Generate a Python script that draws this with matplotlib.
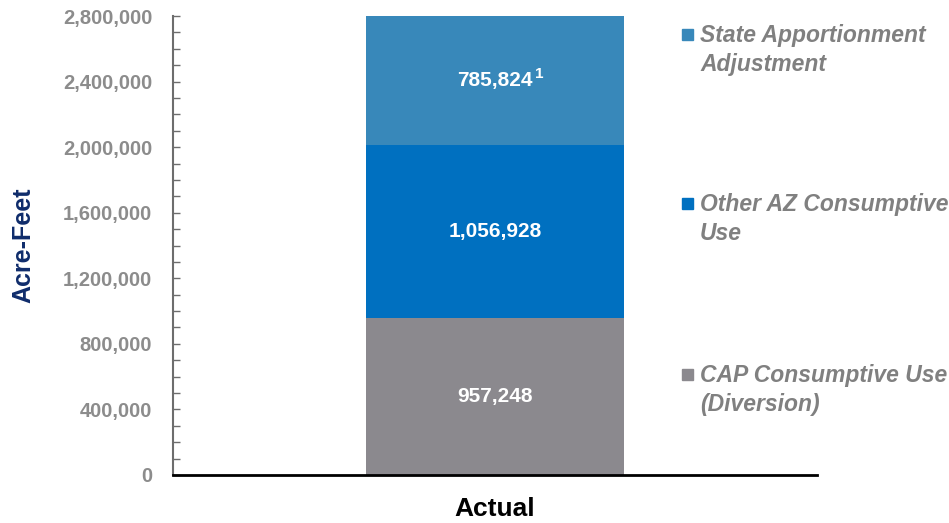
import matplotlib.pyplot as plt
from matplotlib.patches import Rectangle
from matplotlib.ticker import MultipleLocator, FuncFormatter

plt.rcParams['font.family'] = ['Liberation Sans', 'DejaVu Sans']

categoria = ["Actual"]
series = ["CAP Consumptive Use\n(Diversion)", "Other AZ Consumptive\nUse",
          "State Apportionment\nAdjustment"]
valores = [957248, 1056928, 785824]
etiquetas = ["957,248", "1,056,928", "785,824"]
colores = ["#8b898e", "#0070c0", "#3888ba"]

fig = plt.figure(figsize=(9.49, 5.23), dpi=100)
ax = fig.add_axes([173/949, 1-475/523, (817-173)/949, (475-16)/523])

base = 0
for v, c, et in zip(valores, colores, etiquetas):
    ax.bar(0, v, bottom=base, width=0.402, color=c)
    t = ax.text(0, base + v/2, et, ha='center', va='center', color='white',
                fontsize=15, fontweight='bold')
    if et == "785,824":  # nota al pie
        ax.annotate("1", xy=(1, 1), xycoords=t, xytext=(1.5, 2.5),
                    textcoords='offset points', ha='left', va='top',
                    color='white', fontsize=11, fontweight='bold')
    base += v

ax.set_xlim(-0.5, 0.5)
ax.set_ylim(0, 2800000)
ax.set_xticks([0])
ax.set_xticklabels(categoria, fontsize=19, fontweight='bold', color='black')
ax.tick_params(axis='x', length=0, pad=16)
ax.yaxis.set_major_locator(MultipleLocator(400000))
ax.yaxis.set_minor_locator(MultipleLocator(100000))
ax.yaxis.set_major_formatter(FuncFormatter(lambda x, p: f"{int(x):,}"))
ax.tick_params(axis='y', which='both', direction='in', length=5, width=1,
               color='#6d6d6d', pad=15)
for lab in ax.get_yticklabels():
    lab.set_fontsize(14.5)
    lab.set_fontweight('bold')
    lab.set_color('#8c8c8c')

ax.set_ylabel("Acre-Feet", fontsize=18, fontweight='bold', color='#0f2c6b')
ax.yaxis.set_label_coords(-0.214, 0.5)

ax.spines['top'].set_visible(False)
ax.spines['right'].set_visible(False)
ax.spines['left'].set_color('#6d6d6d')
ax.spines['left'].set_linewidth(1.5)
ax.spines['bottom'].set_color('black')
ax.spines['bottom'].set_linewidth(2)

# leyenda a mano
W, H = 949, 523
for nombre, c, y in zip(series, colores, [374, 203, 34]):
    fig.add_artist(Rectangle((682/W, 1-(y+6)/H), 11/W, 11/H, color=c,
                             transform=fig.transFigure))
    fig.text(700/W, 1-(y-10)/H, nombre, ha='left', va='top', fontsize=16.5,
             fontweight='bold', style='italic', color='#808080',
             linespacing=1.33)

plt.savefig("out.png", dpi=100)
plt.close()
